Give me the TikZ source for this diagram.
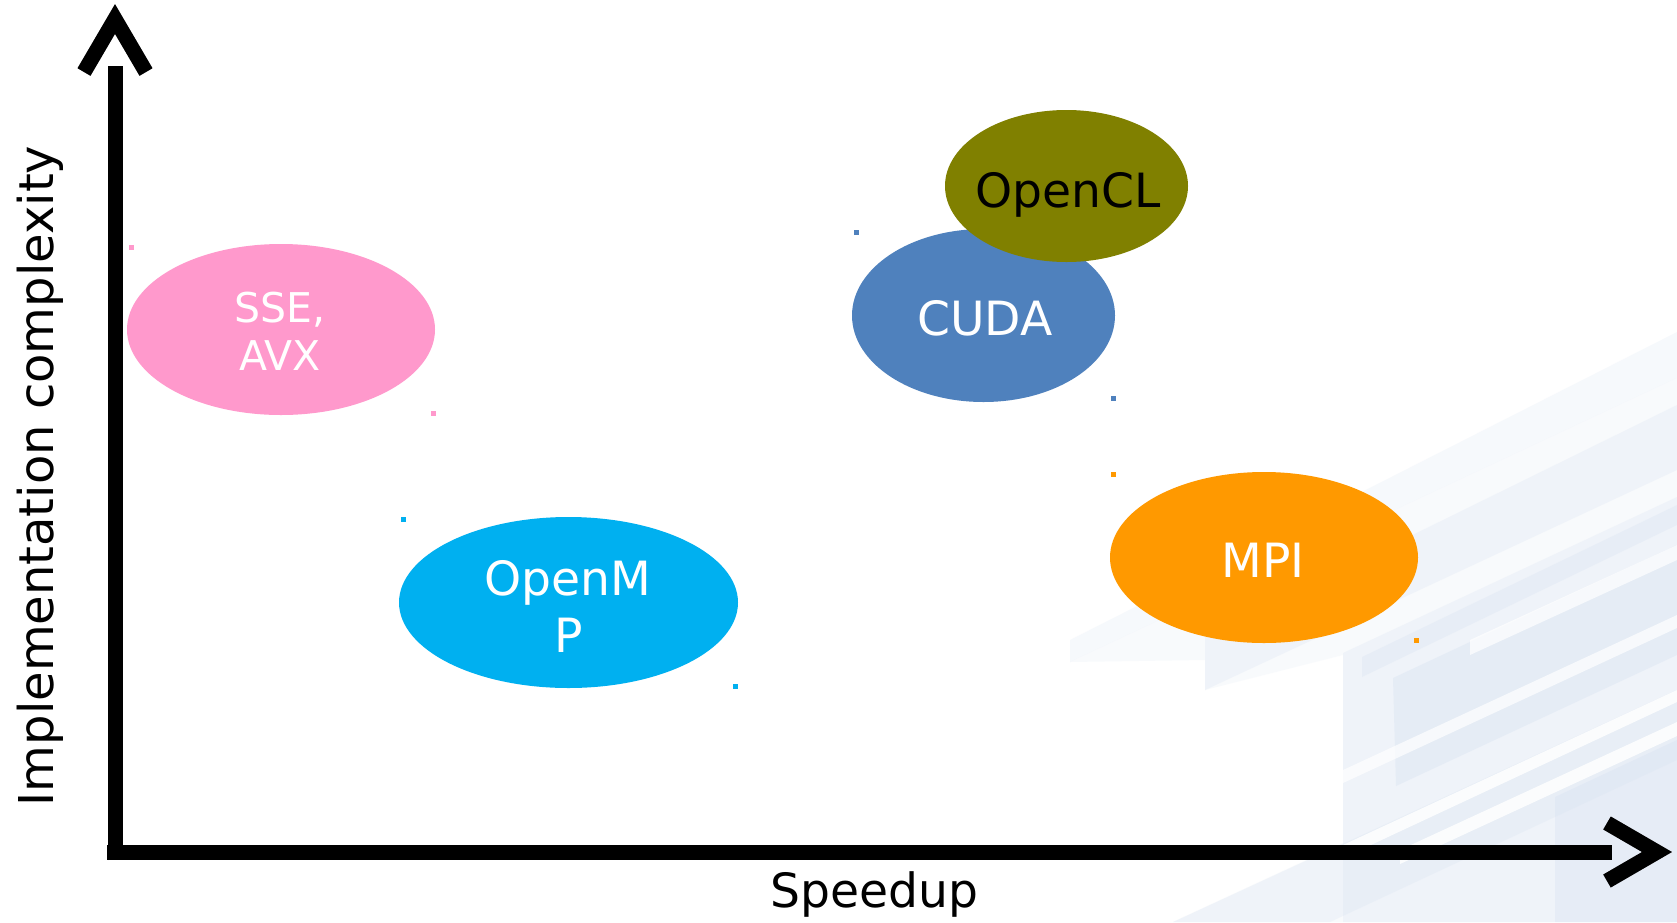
\documentclass[tikz,border=0pt]{standalone}
\usepackage{fontspec}
\setmainfont{DejaVu Sans}
\usetikzlibrary{shapes.geometric}
\definecolor{pinkc}{HTML}{FF99CC}
\definecolor{cyanc}{HTML}{00B0F0}
\definecolor{bluec}{HTML}{4F81BD}
\definecolor{olivec}{HTML}{808000}
\definecolor{orangec}{HTML}{FF9900}
\definecolor{shadowc}{HTML}{9C9C9C}
\definecolor{tintc}{RGB}{214,225,241}
\begin{document}
\begin{tikzpicture}[x=0.5pt,y=-0.5pt,
  blob/.style={ellipse, inner sep=0pt, draw=none},
  lbl/.style={font=\fontsize{23.6}{28}\selectfont, inner sep=0pt, anchor=base, text=white},
  smalllbl/.style={lbl, font=\fontsize{20.5}{24}\selectfont},
  axisline/.style={line width=7.5pt, draw=black, miter limit=10},
  shadowline/.style={line width=7.5pt, draw=shadowc, miter limit=10},
  tint/.style={fill=tintc, fill opacity=#1},
  whitestripe/.style={fill=white, fill opacity=#1}
]
\useasboundingbox (0,0) rectangle (1677,922);
\fill[white] (0,0) rectangle (1677,922);

% decorative background
\fill[tint=0.20] (1070,640) -- (1677,332) -- (1677,378) -- (1070,662) -- cycle;
\fill[tint=0.15] (1070,662) -- (1677,378) -- (1677,922) -- (1173,922) -- (1343,843) -- (1343,655) -- (1205,690) -- (1205,660) -- cycle;
\fill[tint=0.25] (1205,637) -- (1677,405) -- (1677,470) -- (1205,690) -- cycle;
\fill[tint=0.25] (1343,653) -- (1677,497) -- (1677,922) -- (1343,922) -- cycle;
\fill[tint=0.30] (1362,657) -- (1677,505) -- (1677,525) -- (1362,677) -- cycle;
\fill[tint=0.38] (1393,678) -- (1677,545) -- (1677,655) -- (1396,786) -- cycle;
\fill[tint=0.35] (1555,797) -- (1677,740) -- (1677,922) -- (1555,922) -- cycle;
\fill[tint=0.25] (1173,922) -- (1677,690) -- (1677,760) -- (1330,922) -- cycle;
\fill[whitestripe=0.85] (1343,845) -- (1677,690) -- (1677,702) -- (1343,858) -- cycle;
\fill[whitestripe=0.85] (1400,850) -- (1677,722) -- (1677,736) -- (1400,864) -- cycle;
\fill[whitestripe=0.7] (1470,640) -- (1677,545) -- (1677,560) -- (1470,655) -- cycle;
\fill[whitestripe=0.7] (1300,790) -- (1677,615) -- (1677,628) -- (1300,803) -- cycle;

% axes coordinates
\coordinate (yb) at (115,860);
\coordinate (yt) at (115,66);
\coordinate (xl) at (107,852);
\coordinate (xr) at (1612,852);
\coordinate (ya1) at (84,72);
\coordinate (yap) at (115,19);
\coordinate (ya2) at (146,72);
\coordinate (xa1) at (1607,823);
\coordinate (xap) at (1657,852);
\coordinate (xa2) at (1607,881);

% shadows
\begin{scope}[shift={(1,6)}]
  \draw[shadowline] (xl) -- (xr);
  \draw[shadowline] (ya1) -- (yap) -- (ya2);
  \draw[shadowline] (xa1) -- (xap) -- (xa2);
\end{scope}
% axes
\draw[axisline] (yb) -- (yt);
\draw[axisline] (xl) -- (xr);
\draw[axisline] (ya1) -- (yap) -- (ya2);
\draw[axisline] (xa1) -- (xap) -- (xa2);

% ellipses
\node[blob, fill=pinkc, minimum width=154pt, minimum height=85.5pt] (sse) at (281,329.5) {};
\node[blob, fill=cyanc, minimum width=169.5pt, minimum height=85.5pt] (omp) at (568.5,602.5) {};
\node[blob, fill=bluec, minimum width=131.5pt, minimum height=86.5pt] (cuda) at (983.5,315.5) {};
\node[blob, fill=olivec, minimum width=121.5pt, minimum height=76pt] (ocl) at (1066.5,186) {};
\node[blob, fill=orangec, minimum width=154pt, minimum height=85.5pt] (mpi) at (1264,557.5) {};

% small markers
\fill[pinkc] (131,247) +(-2.5,-2.5) rectangle +(2.5,2.5);
\fill[pinkc] (433,413) +(-2.5,-2.5) rectangle +(2.5,2.5);
\fill[cyanc] (403,519) +(-2.5,-2.5) rectangle +(2.5,2.5);
\fill[cyanc] (735,686) +(-2.5,-2.5) rectangle +(2.5,2.5);
\fill[bluec] (856,232) +(-2.5,-2.5) rectangle +(2.5,2.5);
\fill[bluec] (1113,398) +(-2.5,-2.5) rectangle +(2.5,2.5);
\fill[orangec] (1113,474) +(-2.5,-2.5) rectangle +(2.5,2.5);
\fill[orangec] (1416,640) +(-2.5,-2.5) rectangle +(2.5,2.5);

% labels
\node[smalllbl] (sse1) at (280,322) {SSE,};
\node[smalllbl] (sse2) at (280,370) {AVX};
\node[lbl] (omp1) at (568,595) {OpenM};
\node[lbl] (omp2) at (569,652) {P};
\node[lbl] (cudat) at (985,335) {CUDA};
\node[lbl, text=black] (oclt) at (1068,207) {OpenCL};
\node[lbl] (mpit) at (1263,577) {MPI};
\node[lbl, text=black] (xlab) at (874.5,907) {Speedup};
\node[lbl, text=black, rotate=90, font=\fontsize{24}{28}\selectfont] (ylab) at (53.5,476) {Implementation complexity};
\end{tikzpicture}
\end{document}
